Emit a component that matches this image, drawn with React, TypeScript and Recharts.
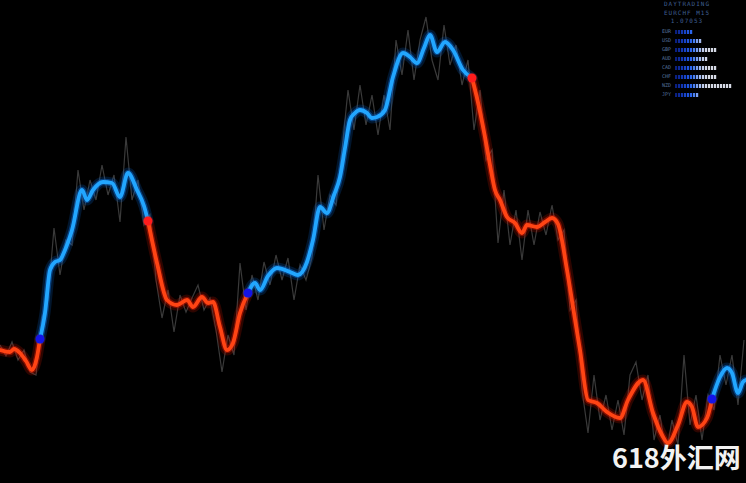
import React from "react";
import { LineChart, Line, XAxis, YAxis, ReferenceDot, BarChart, Bar } from "recharts";

const W = 746;
const H = 483;

// smoothed trend (x = bar position, v = price level in chart units)
const trendX = [
  0, 10, 14, 20, 26, 32, 37, 40, 45, 50, 55, 60, 65, 72, 82, 87, 93, 103, 112, 120,
  128, 137, 144, 148, 157, 167, 177, 187, 193, 202, 208, 213, 220, 227, 233, 240, 248, 255, 260, 268,
  277, 290, 298, 307, 313, 320, 327, 334, 340, 345, 350, 355, 360, 367, 372, 377, 385, 393, 403, 410,
  417, 424, 430, 437, 445, 453, 463, 472, 477, 485, 490, 495, 500, 507, 515, 522, 527, 537, 545, 552,
  558, 567, 573, 580, 588, 597, 607, 620, 628, 643, 653, 662, 668, 678, 687, 692, 698, 707, 712, 720,
  727, 732, 738, 743, 746,
];
const trendV = [
  133, 131, 134, 130, 122, 113, 126, 144, 170, 213, 221, 223, 233, 253, 293, 283, 293, 301, 300, 286,
  310, 293, 277, 262, 220, 183, 178, 183, 176, 186, 180, 181, 156, 133, 140, 170, 190, 200, 193, 207,
  215, 211, 208, 221, 243, 276, 270, 288, 306, 335, 363, 370, 373, 370, 365, 366, 373, 406, 430, 426,
  420, 435, 448, 431, 441, 433, 413, 405, 385, 346, 318, 293, 283, 266, 260, 250, 258, 256, 261, 265,
  259, 213, 176, 133, 83, 80, 71, 65, 83, 103, 70, 48, 40, 58, 81, 76, 56, 65, 84, 106,
  115, 110, 90, 101, 103,
];
const turnUpX = [40, 248, 712];
const turnDownX = [148, 472];

// raw price (one value per bar)
const RAW_STEP = 6;
const rawV = [
  138, 127, 141, 123, 133, 111, 108, 165, 183, 255,
  208, 243, 238, 313, 273, 303, 283, 318, 288, 308,
  261, 346, 283, 303, 258, 268, 203, 165, 193, 151,
  188, 171, 185, 198, 173, 185, 153, 111, 148, 128,
  220, 173, 208, 183, 221, 198, 228, 203, 225, 183,
  218, 203, 225, 308, 253, 288, 278, 333, 393, 353,
  398, 358, 388, 348, 388, 353, 443, 408, 453, 403,
  443, 466, 423, 403, 458, 418, 438, 398, 423, 353,
  393, 323, 333, 240, 293, 238, 273, 223, 273, 238,
  271, 248, 278, 243, 253, 173, 183, 93, 50, 108,
  63, 88, 53, 83, 48, 108, 121, 83, 108, 43,
  68, 28, 63, 38, 128, 58, 88, 43, 88, 73,
  128, 98, 128, 78, 143,
];

const header = ["DAYTRADING", "EURCHF M15", "1.07053"];
const currencies = ["EUR", "USD", "GBP", "AUD", "CAD", "CHF", "NZD", "JPY"];
const strength = [6, 9, 14, 11, 14, 14, 19, 8];

const blockColors = [
  "#0b2080", "#0e2a98", "#1236b2", "#1844c8", "#2054dc", "#2b66ee", "#4a80f2",
  "#7a9ff0", "#a3baee", "#c0cdec", "#cfd6ea", "#d6dae6",
];

const COLORS = {
  up: { glow: "#0a70e0", core: "#22a6ff" },
  down: { glow: "#e01800", core: "#ff4414" },
};

const trend = trendX.map((x, i) => ({ x, v: trendV[i] }));
const rawData = rawV.map((v, i) => ({ x: i * RAW_STEP, v }));
const strengthData = currencies.map((cur, i) => ({ cur, s: strength[i] }));

// split the trend into up / down pieces at the turning points
const turns = [
  ...turnUpX.map((x) => ({ x, dir: "up" })),
  ...turnDownX.map((x) => ({ x, dir: "down" })),
];
const segments: { dir: string; pts: { x: number; v: number }[] }[] = [];
let cur = { dir: "down", pts: [] as { x: number; v: number }[] };
trend.forEach((p) => {
  cur.pts.push(p);
  const t = turns.find((t) => t.x === p.x);
  if (t) {
    segments.push(cur);
    cur = { dir: t.dir, pts: [p] };
  }
});
segments.push(cur);

const valueAt = (x: number) => trend.find((p) => p.x === x)?.v ?? 0;

const Blocks = (props: any) => {
  const { x, y, width, height, payload } = props;
  const n = payload.s;
  const unit = width / n;
  return (
    <g>
      {Array.from({ length: n }, (_, i) => (
        <rect
          key={i}
          x={x + i * unit}
          y={y}
          width={unit - 0.8}
          height={height}
          fill={blockColors[Math.min(i, blockColors.length - 1)]}
        />
      ))}
    </g>
  );
};

export default function App() {
  return (
    <div
      style={{
        position: "fixed",
        left: 0,
        top: 0,
        width: W,
        height: H,
        background: "#000",
        overflow: "hidden",
      }}
    >
      <LineChart width={W} height={H} margin={{ top: 0, right: 0, bottom: 0, left: 0 }}>
        <XAxis type="number" dataKey="x" domain={[0, W]} hide allowDataOverflow />
        <YAxis type="number" domain={[0, H]} hide allowDataOverflow />
        <Line
          data={rawData}
          dataKey="v"
          type="linear"
          stroke="#3a3a3a"
          strokeWidth={1.2}
          dot={false}
          activeDot={false}
          isAnimationActive={false}
        />
        {segments.map((seg, i) => {
          const c = seg.dir === "up" ? COLORS.up : COLORS.down;
          return [
            <Line
              key={`g1-${i}`}
              data={seg.pts}
              dataKey="v"
              type="monotone"
              stroke={c.glow}
              strokeOpacity={0.2}
              strokeWidth={11}
              strokeLinecap="round"
              dot={false}
              activeDot={false}
              isAnimationActive={false}
            />,
            <Line
              key={`g2-${i}`}
              data={seg.pts}
              dataKey="v"
              type="monotone"
              stroke={c.glow}
              strokeOpacity={0.45}
              strokeWidth={6.5}
              strokeLinecap="round"
              dot={false}
              activeDot={false}
              isAnimationActive={false}
            />,
            <Line
              key={`c-${i}`}
              data={seg.pts}
              dataKey="v"
              type="monotone"
              stroke={c.core}
              strokeWidth={3.8}
              strokeLinecap="round"
              dot={false}
              activeDot={false}
              isAnimationActive={false}
            />,
          ];
        })}
        {turnUpX.map((x) => (
          <ReferenceDot key={`u${x}`} x={x} y={valueAt(x)} r={4.5} fill="#1414e6" stroke="none" />
        ))}
        {turnDownX.map((x) => (
          <ReferenceDot key={`d${x}`} x={x} y={valueAt(x)} r={4.5} fill="#ff1c1c" stroke="none" />
        ))}
      </LineChart>

      <div
        style={{
          position: "absolute",
          left: 647,
          top: 0,
          width: 80,
          textAlign: "center",
          fontFamily: "'DejaVu Sans Mono', monospace",
          fontSize: 6,
          lineHeight: "8.5px",
          letterSpacing: 1,
          color: "#3f5f92",
        }}
      >
        {header.map((h) => (
          <div key={h}>{h}</div>
        ))}
      </div>

      <div style={{ position: "absolute", left: 655, top: 27 }}>
        <BarChart
          width={80}
          height={72}
          layout="vertical"
          data={strengthData}
          margin={{ top: 0, right: 0, bottom: 0, left: 0 }}
        >
          <XAxis type="number" domain={[0, 20]} hide />
          <YAxis
            type="category"
            dataKey="cur"
            width={20}
            axisLine={false}
            tickLine={false}
            tickSize={0}
            tickMargin={4}
            tick={{ fontSize: 5, fill: "#56729e", fontFamily: "'DejaVu Sans Mono', monospace" }}
            interval={0}
          />
          <Bar dataKey="s" barSize={4} shape={<Blocks />} isAnimationActive={false} />
        </BarChart>
      </div>

      <div
        style={{
          position: "absolute",
          left: 612,
          top: 443,
          fontFamily: "'Noto Sans CJK SC', sans-serif",
          fontWeight: 700,
          fontSize: 27,
          lineHeight: "27px",
          color: "#f2f2f2",
          whiteSpace: "nowrap",
        }}
      >
        618外汇网
      </div>
    </div>
  );
}
